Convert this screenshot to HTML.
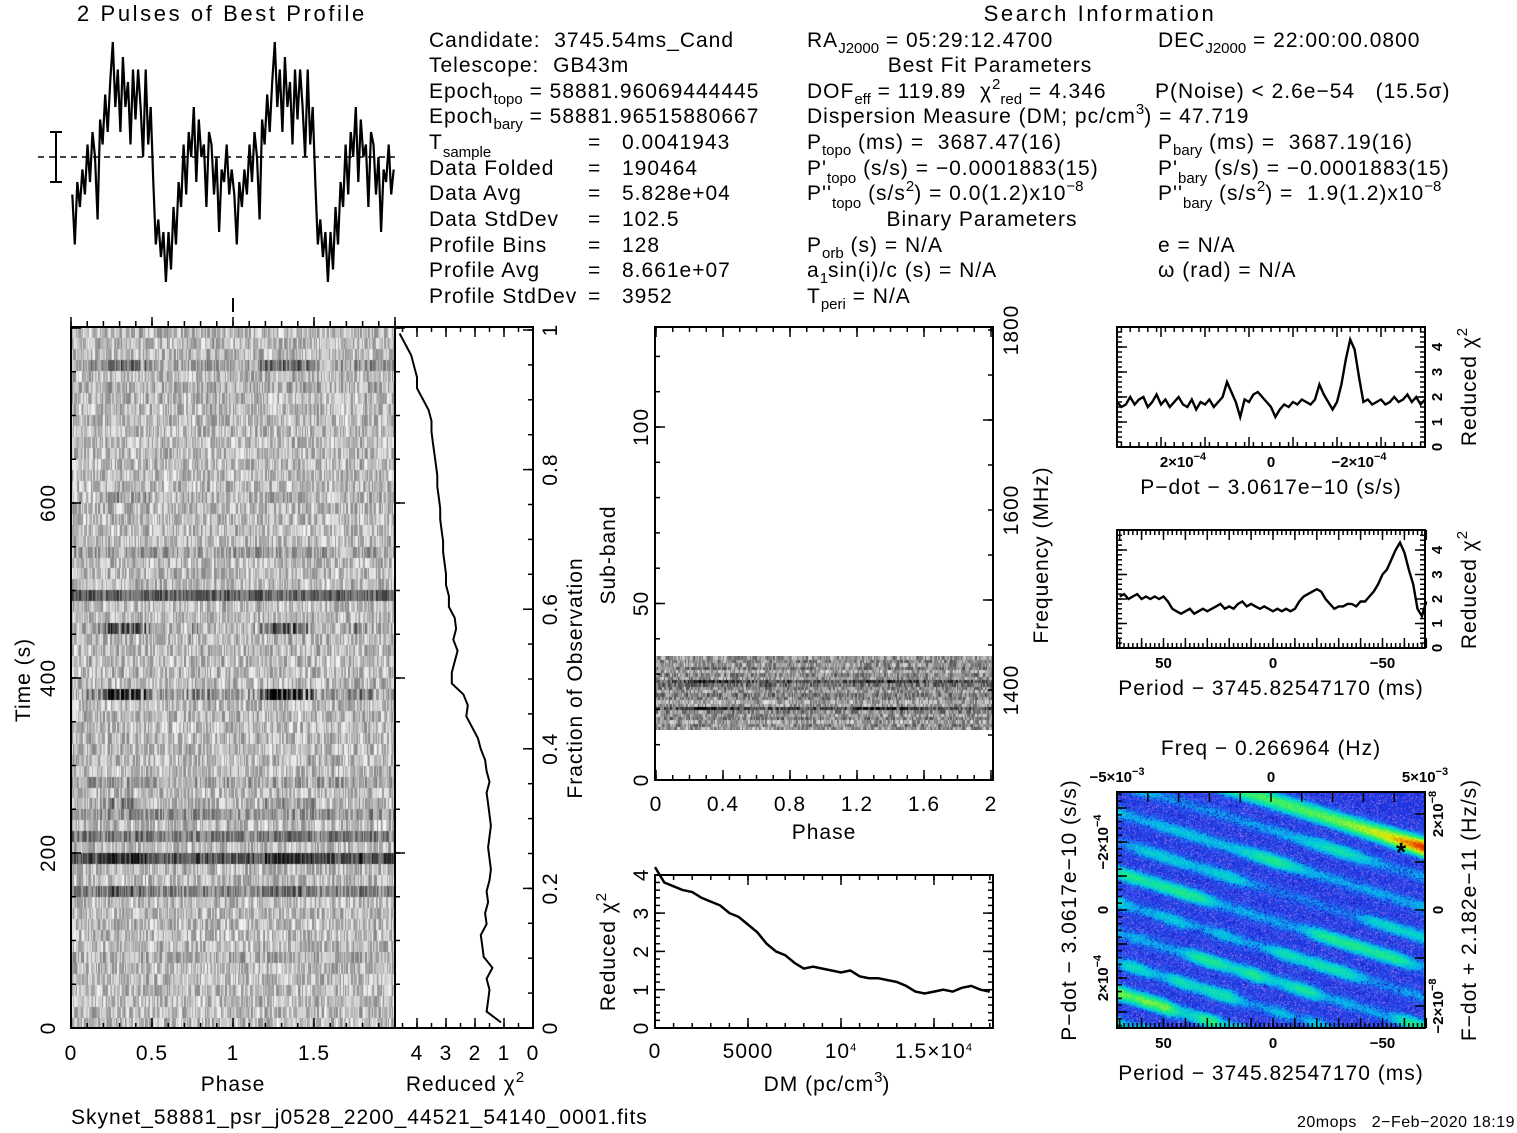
<!DOCTYPE html>
<html><head><meta charset="utf-8">
<style>
html,body{margin:0;padding:0;background:#fff;}
#wrap{position:relative;width:1517px;height:1133px;overflow:hidden;background:#fff;}
canvas{position:absolute;}
svg{position:absolute;left:0;top:0;}
text{font-family:"Liberation Sans",sans-serif;fill:#000;white-space:pre;}
.t{font-size:21px;letter-spacing:1px;}
.ttl{font-size:22px;letter-spacing:2.6px;}
.sm{font-size:15px;letter-spacing:0;}
.tk{font-size:21px;letter-spacing:1px;}
.tb{font-size:15px;font-weight:bold;}
</style></head>
<body>
<div id="wrap">
<canvas id="cvTP" width="324" height="701" style="left:71px;top:327px"></canvas>
<canvas id="cvSB" width="338" height="74" style="left:655px;top:656px"></canvas>
<canvas id="cvCM" width="308" height="236" style="left:1117px;top:792px"></canvas>
<svg id="svg" width="1517" height="1133" viewBox="0 0 1517 1133">
<g id="texts">
<text class="ttl" x="77" y="21">2 Pulses of Best Profile</text>
<text class="ttl" x="1100" y="21" text-anchor="middle">Search Information</text>
<text class="t" x="429" y="47">Candidate:  3745.54ms_Cand</text>
<text class="t" x="429" y="72">Telescope:  GB43m</text>
<text class="t" x="429" y="98">Epoch<tspan class="sm" baseline-shift="-6">topo</tspan> = 58881.96069444445</text>
<text class="t" x="429" y="123">Epoch<tspan class="sm" baseline-shift="-6">bary</tspan> = 58881.96515880667</text>
<text class="t" x="429" y="149">T<tspan class="sm" baseline-shift="-8">sample</tspan></text>
<text class="t" x="429" y="175">Data Folded</text>
<text class="t" x="429" y="200">Data Avg</text>
<text class="t" x="429" y="226">Data StdDev</text>
<text class="t" x="429" y="252">Profile Bins</text>
<text class="t" x="429" y="277">Profile Avg</text>
<text class="t" x="429" y="303">Profile StdDev</text>
<text class="t" x="588" y="149">=</text><text class="t" x="622" y="149">0.0041943</text>
<text class="t" x="588" y="175">=</text><text class="t" x="622" y="175">190464</text>
<text class="t" x="588" y="200">=</text><text class="t" x="622" y="200">5.828e+04</text>
<text class="t" x="588" y="226">=</text><text class="t" x="622" y="226">102.5</text>
<text class="t" x="588" y="252">=</text><text class="t" x="622" y="252">128</text>
<text class="t" x="588" y="277">=</text><text class="t" x="622" y="277">8.661e+07</text>
<text class="t" x="588" y="303">=</text><text class="t" x="622" y="303">3952</text>
<text class="t" x="807" y="47">RA<tspan class="sm" baseline-shift="-6">J2000</tspan> = 05:29:12.4700</text>
<text class="t" x="990" y="72" text-anchor="middle">Best Fit Parameters</text>
<text class="t" x="807" y="98">DOF<tspan class="sm" baseline-shift="-6">eff</tspan> = 119.89  χ<tspan class="sm" baseline-shift="9">2</tspan><tspan class="sm" baseline-shift="-6">red</tspan> = 4.346</text>
<text class="t" x="807" y="123">Dispersion Measure (DM; pc/cm<tspan class="sm" baseline-shift="9">3</tspan>) = 47.719</text>
<text class="t" x="807" y="149">P<tspan class="sm" baseline-shift="-6">topo</tspan> (ms) =  3687.47(16)</text>
<text class="t" x="807" y="175">P'<tspan class="sm" baseline-shift="-8">topo</tspan> (s/s) = −0.0001883(15)</text>
<text class="t" x="807" y="200">P''<tspan class="sm" baseline-shift="-8">topo</tspan> (s/s<tspan class="sm" baseline-shift="9">2</tspan>) = 0.0(1.2)x10<tspan class="sm" baseline-shift="9">−8</tspan></text>
<text class="t" x="982" y="226" text-anchor="middle">Binary Parameters</text>
<text class="t" x="807" y="252">P<tspan class="sm" baseline-shift="-6">orb</tspan> (s) = N/A</text>
<text class="t" x="807" y="277">a<tspan class="sm" baseline-shift="-6">1</tspan>sin(i)/c (s) = N/A</text>
<text class="t" x="807" y="303">T<tspan class="sm" baseline-shift="-6">peri</tspan> = N/A</text>
<text class="t" x="1158" y="47">DEC<tspan class="sm" baseline-shift="-6">J2000</tspan> = 22:00:00.0800</text>
<text class="t" x="1155" y="98">P(Noise) &lt; 2.6e−54   (15.5σ)</text>
<text class="t" x="1158" y="149">P<tspan class="sm" baseline-shift="-6">bary</tspan> (ms) =  3687.19(16)</text>
<text class="t" x="1158" y="175">P'<tspan class="sm" baseline-shift="-8">bary</tspan> (s/s) = −0.0001883(15)</text>
<text class="t" x="1158" y="200">P''<tspan class="sm" baseline-shift="-8">bary</tspan> (s/s<tspan class="sm" baseline-shift="9">2</tspan>) =  1.9(1.2)x10<tspan class="sm" baseline-shift="9">−8</tspan></text>
<text class="t" x="1158" y="252">e = N/A</text>
<text class="t" x="1158" y="277">ω (rad) = N/A</text>
</g>
<g>
<text class="t" x="233" y="1091" text-anchor="middle">Phase</text>
<text class="t" x="465" y="1091" text-anchor="middle">Reduced χ<tspan class="sm" baseline-shift="9">2</tspan></text>
<text class="t" transform="translate(30,680) rotate(-90)" text-anchor="middle">Time (s)</text>
<text class="t" transform="translate(582,678) rotate(-90)" text-anchor="middle">Fraction of Observation</text>
<text class="t" transform="translate(615,555) rotate(-90)" text-anchor="middle">Sub-band</text>
<text class="t" transform="translate(1048,555) rotate(-90)" text-anchor="middle">Frequency (MHz)</text>
<text class="t" x="824" y="839" text-anchor="middle">Phase</text>
<text class="t" x="827" y="1091" text-anchor="middle">DM (pc/cm<tspan class="sm" baseline-shift="9">3</tspan>)</text>
<text class="t" transform="translate(615,952) rotate(-90)" text-anchor="middle">Reduced χ<tspan class="sm" baseline-shift="9">2</tspan></text>
<text class="t" x="1271" y="494" text-anchor="middle">P−dot − 3.0617e−10 (s/s)</text>
<text class="t" x="1271" y="695" text-anchor="middle">Period − 3745.82547170 (ms)</text>
<text class="t" x="1271" y="755" text-anchor="middle">Freq − 0.266964 (Hz)</text>
<text class="t" x="1271" y="1080" text-anchor="middle">Period − 3745.82547170 (ms)</text>
<text class="t" transform="translate(1076,910) rotate(-90)" text-anchor="middle">P−dot − 3.0617e−10 (s/s)</text>
<text class="t" transform="translate(1476,910) rotate(-90)" text-anchor="middle">F−dot + 2.182e−11 (Hz/s)</text>
<text class="t" transform="translate(1476,387) rotate(-90)" text-anchor="middle">Reduced χ<tspan class="sm" baseline-shift="9">2</tspan></text>
<text class="t" transform="translate(1476,590) rotate(-90)" text-anchor="middle">Reduced χ<tspan class="sm" baseline-shift="9">2</tspan></text>
<text class="t" x="71" y="1124">Skynet_58881_psr_j0528_2200_44521_54140_0001.fits</text>
<text x="1515" y="1127" text-anchor="end" style="font-size:16px;letter-spacing:0.5px">20mops   2−Feb−2020 18:19</text>
</g>
<g id="axes" stroke="#000" stroke-width="2" fill="none"></g>
<g id="labels"></g>
<g id="marks" fill="none" stroke="#000"></g>
</svg>
</div>
<script>
// ---------- DATA ----------
const profileBins = [-1.5,-3.5,-1,-2,-0.5,-1.5,0.5,-1, 1,0,-2.5,1.5,0.5,2.5,1,3, 4.6,2,3.5,1,4,2,3,0.5, 3.5,1.5,3.5,2,0,3.5,0.5,2, -1,-3.5,-2.5,-4,-3,-5,-3,-4.5, -2,-3.5,-1,-2,0.5,-1.5,1,0, 2,-1,1.5,0,0.5,-2,1,0.5, -1.5,0,-3,-0.5,-1,0.5,-1.5,-0.5];
const timeChi2 = [1.1,1.6,1.55,1.5,1.6,1.4,1.7,1.75, 1.8,1.6,1.65,1.55,1.6,1.5,1.45,1.5, 1.55,1.5,1.45,1.5,1.55,1.6,1.5,1.6, 1.65,1.8,1.9,2.1,2.3,2.25,2.4,2.8, 2.8,2.7,2.6,2.75,2.65,2.7,2.9,2.9, 3.0,3.0,3.05,3.1,3.1,3.15,3.2,3.2, 3.25,3.3,3.3,3.35,3.4,3.45,3.5,3.5, 3.6,3.8,4.0,4.0,4.1,4.2,4.4,4.6];
const rowOffset = [0,0,0,0,0,0,0.05,0,0,0,0,0,0.2,0,0,0.4,0,0.25,0,0.15,0,0,0.1,0,0,0,0,0,0,0,0.08,0,0,0,0,0,0,0,0,0.35,0,0,0,0.1,0,0,0,0,0,0,0,0,0,0,0,0,0,0,0.05,0,0.1,0,0,0];
const rowPulse  = [0,0,0,0,0,0,0,0,0,0,0,0,0.15,0,0,0.2,0,0,0,0,0.2,0,0,0,0,0,0,0,0,0,0.75,0,0,0,0,0,0.55,0,0,0,0,0,0,0,0,0,0,0,0.2,0,0,0,0,0,0,0,0,0,0,0,0.3,0,0,0];
const sbOffset = [0,0.05,-0.05,0.1,0,0.05,0.25,0,-0.05,0.05,0.1,0,0.05,0.15,0.25,0,0.05,-0.05,0.1,0,0.05,0];
const sbPulse  = [0,0,0,0,0,0,0.5,0,0,0,0,0,0,0,0.3,0,0,0,0,0,0,0];
const dmVals = [0,500,1000,1500,2000,2500,3000,3500,4000,4500,5000,5500,6000,6500,7000,7500,8000,8500,9000,9500,10000,10500,11000,11500,12000,12500,13000,13500,14000,14500,15000,15500,16000,16500,17000,17500,18000];
const dmChi2 = [4.2,3.8,3.7,3.6,3.55,3.4,3.3,3.2,3.0,2.9,2.7,2.5,2.2,2.0,1.9,1.7,1.55,1.6,1.55,1.5,1.45,1.5,1.35,1.3,1.3,1.25,1.2,1.1,0.95,0.9,0.95,1.0,0.95,1.05,1.1,1.0,0.95];
const pdotChi2 = [1.8,1.6,1.7,2.0,1.7,1.9,2.0,1.6,1.8,2.1,1.7,1.9,1.6,1.8,2.0,1.7,1.6,1.9,1.5,1.8,1.7,1.9,1.6,1.8,2.0,2.6,2.2,1.8,1.2,1.9,1.8,2.1,2.2,2.0,1.8,1.6,1.2,1.5,1.7,1.6,1.8,1.7,1.9,1.8,1.7,1.9,2.5,2.1,1.8,1.5,1.8,2.5,3.5,4.3,3.9,2.8,1.8,1.9,1.7,1.8,1.9,1.7,1.8,2.0,1.8,1.9,2.1,1.8,2.0,1.7,1.9]; // pdot offset +35..-35 (1e-5)
const periodChi2 = [2.1,2.2,2.0,2.1,2.2,2.0,2.1,2.0,2.1,2.0,2.1,1.9,1.6,1.5,1.4,1.5,1.6,1.4,1.5,1.6,1.5,1.6,1.7,1.8,1.6,1.7,1.6,1.8,1.9,1.7,1.8,1.7,1.6,1.7,1.6,1.5,1.6,1.5,1.6,1.5,1.6,1.9,2.1,2.2,2.3,2.4,2.3,2.0,1.8,1.6,1.7,1.7,1.8,1.8,1.7,1.9,1.9,2.1,2.3,2.6,3.0,3.2,3.6,4.0,4.3,3.9,3.2,2.6,1.6,1.3,1.9]; // period offset +70..-70 step 2 ms
const streakY0 = [-40,-10,20,50,80,110,140,170,200,230,260,290];
const streakStr = [0.9,0.45,0.5,0.4,0.5,0.45,0.5,0.45,0.62,0.5,0.45,0.5];

// ---------- SCALES ----------
const phaseL=v=>71+v*162, timeY=t=>1028-t*0.875, chiX=v=>533-29*v, fracY=f=>1028-698*f;
const phS=v=>656+v*167.5, subY=s=>780-3.53*s, freqY=f=>690-(f-1400)*0.9;
const dmX=d=>655+d*0.0186, dmY=v=>1028-38.3*v;
const pdX=u=>1271-4.4*u, pdY=v=>447-25*v;
const prX=p=>1273-2.19*p, prY=v=>648-24.5*v;
const cPdY=u=>910+3.4*u, cFX=f=>1271+f*30.8, cFdY=f=>910-f*48;

const NS='http://www.w3.org/2000/svg';
const axes=document.getElementById('axes'), labels=document.getElementById('labels'), marks=document.getElementById('marks');
function ln(x1,y1,x2,y2,w){const e=document.createElementNS(NS,'line');e.setAttribute('x1',x1);e.setAttribute('y1',y1);e.setAttribute('x2',x2);e.setAttribute('y2',y2);if(w)e.setAttribute('stroke-width',w);axes.appendChild(e);return e;}
function box(x0,y0,x1,y1,name){const e=document.createElementNS(NS,'rect');e.setAttribute('x',x0);e.setAttribute('y',y0);e.setAttribute('width',x1-x0);e.setAttribute('height',y1-y0);


axes.appendChild(e);}
function lab(x,y,s,cls,rot,anchor){const e=document.createElementNS(NS,'text');e.setAttribute('class',cls||'tk');e.setAttribute('text-anchor',anchor||'middle');
if(rot)e.setAttribute('transform','translate('+x+','+y+') rotate(-90)');else{e.setAttribute('x',x);e.setAttribute('y',y);}
e.innerHTML=s;


labels.appendChild(e);}
function tx(f,a,b,step,y,d,len){for(let v=a;v<=b+1e-9;v+=step){const x=f(v);ln(x,y,x,y+d*len,1.5);}}
function ty(f,a,b,step,x,d,len){for(let v=a;v<=b+1e-9;v+=step){const y=f(v);ln(x,y,x+d*len,y,1.5);}}
function path(pts,w,name,dash){const e=document.createElementNS(NS,'path');e.setAttribute('d','M'+pts.map(p=>p[0].toFixed(1)+','+p[1].toFixed(1)).join('L'));e.setAttribute('stroke-width',w);if(dash)e.setAttribute('stroke-dasharray',dash);


marks.appendChild(e);return e;}
const sup=(a,b)=>a+'<tspan font-size="11" baseline-shift="7">'+b+'</tspan>';

// ---------- PROFILE ----------
{const pts=[];const n=profileBins.length;for(let p=0;p<2;p++)for(let k=0;k<n;k++){pts.push([71+(p*n+k+0.5)*(324/(2*n)),157-25*profileBins[k]]);}
path(pts,2.2,'profile-line');
path([[38,157],[395,157]],1.5,'profile-baseline','6,5');
path([[50,132],[62,132]],2,'error-bar-top');path([[56,132],[56,182]],2,'error-bar');path([[50,182],[62,182]],2,'error-bar-bottom');
ln(233,298,233,312,2);}

// ---------- TIME-PHASE ----------
function hash(i,j,s){let h=(i*374761393+j*668265263+s*982451653)|0;h=Math.imul(h^(h>>>13),1274126177);h^=h>>>16;return (h>>>0)/4294967296;}
function profAt(ph){const n=profileBins.length;const k=Math.floor(((ph%1)+1)%1*n);return profileBins[k];}
{const c=document.getElementById('cvTP').getContext('2d');const rows=timeChi2.length,cols=256;
for(let r=0;r<rows;r++)for(let j=0;j<cols;j++){const ph=j/128;let v=0.26+0.45*(hash(r,j,1)-0.5)+rowOffset[r]+rowPulse[r]*Math.max(0,profAt(ph))/4.6*1.2;v=Math.max(0,Math.min(1,v));const g=Math.round(255*(1-v));c.fillStyle='rgb('+g+','+g+','+g+')';
const x0=Math.floor(j*324/cols),x1=Math.floor((j+1)*324/cols),y1=701-Math.floor(r*701/rows),y0=701-Math.floor((r+1)*701/rows);c.fillRect(x0,y0,x1-x0,y1-y0);}
box(71,327,533,1028,'time-phase-frame');ln(395,327,395,1028,2);
tx(phaseL,0,2,0.5,1028,-1,10);tx(phaseL,0,2,0.1,1028,-1,5);tx(phaseL,0,2,0.5,327,-1,10);tx(phaseL,0,2,0.1,327,-1,6);
ty(timeY,0,800,200,71,1,10);ty(timeY,0,800,50,71,1,5);ty(timeY,0,800,200,395,1,10);ty(timeY,0,800,50,395,1,5);
['0','0.5','1','1.5'].forEach((s,i)=>lab(phaseL(i*0.5),1060,s));
[0,200,400,600].forEach(t=>lab(55,timeY(t),String(t),'tk',true));
tx(chiX,0,4,1,1028,-1,10);tx(chiX,0,4.5,0.5,1028,-1,5);tx(chiX,0,4,1,327,1,10);tx(chiX,0,4.5,0.5,327,1,5);
[4,3,2,1,0].forEach(v=>lab(chiX(v),1060,String(v)));
ty(fracY,0,1,0.2,533,-1,10);ty(fracY,0,1,0.05,533,-1,5);
[0,0.2,0.4,0.6,0.8,1].forEach(f=>lab(557,fracY(f),String(f),'tk',true));
path(timeChi2.map((v,i)=>[chiX(v),timeY((i+0.5)*800/timeChi2.length)]),2,'time-chi2-line');}

// ---------- SUBBANDS ----------
{const c=document.getElementById('cvSB').getContext('2d');const n=sbOffset.length,cols=256;
for(let r=0;r<n;r++)for(let j=0;j<cols;j++){const ph=j/128;let v=0.4+0.5*(hash(r,j,2)-0.5)+sbOffset[r]+sbPulse[r]*Math.max(0,profAt(ph))/4.6;v=Math.max(0,Math.min(1,v));const g=Math.round(255*(1-v));c.fillStyle='rgb('+g+','+g+','+g+')';
const x0=Math.floor(j*338/cols),x1=Math.floor((j+1)*338/cols),y1=74-Math.floor(r*74/n),y0=74-Math.floor((r+1)*74/n);c.fillRect(x0,y0,x1-x0,y1-y0);}
box(655,327,993,780,'subband-frame');
tx(phS,0,2,0.4,780,-1,10);tx(phS,0,2,0.1,780,-1,5);tx(phS,0,2,0.4,327,1,10);tx(phS,0,2,0.1,327,1,5);
ty(subY,0,125,50,655,1,10);ty(subY,0,125,10,655,1,5);
ty(freqY,1300,1800,200,993,1,-10);ty(freqY,1300,1800,50,993,1,-5);
['0','0.4','0.8','1.2','1.6','2'].forEach((s,i)=>lab(phS(i*0.4),811,s));
[0,50,100].forEach(s=>lab(648,subY(s),String(s),'tk',true));
[1400,1600,1800].forEach(f=>lab(1018,freqY(f),String(f),'tk',true));}

// ---------- DM ----------
box(655,875,993,1028,'dm-frame');
tx(dmX,0,18000,5000,1028,-1,10);tx(dmX,0,18000,1000,1028,-1,5);tx(dmX,0,18000,5000,875,1,10);tx(dmX,0,18000,1000,875,1,5);
ty(dmY,0,4,1,655,1,10);ty(dmY,0,4,0.2,655,1,5);ty(dmY,0,4,1,993,-1,10);ty(dmY,0,4,0.2,993,-1,5);
lab(dmX(0),1058,'0');lab(dmX(5000),1058,'5000');lab(dmX(10000),1058,sup('10','4'));lab(dmX(15000),1058,sup('1.5×10','4'));
[0,1,2,3,4].forEach(v=>lab(648,dmY(v),String(v),'tk',true));
path(dmVals.map((d,i)=>[dmX(d),dmY(dmChi2[i])]),2.5,'dm-chi2-line');

// ---------- PDOT ----------
box(1117,327,1425,447,'pdot-frame');
tx(pdX,-35,35,10,447,-1,10);tx(pdX,-34,34,2,447,-1,5);tx(pdX,-35,35,10,327,1,10);tx(pdX,-34,34,2,327,1,5);
ty(pdY,0,4,1,1117,1,10);ty(pdY,0,4.6,0.2,1117,1,5);ty(pdY,0,4,1,1425,-1,10);ty(pdY,0,4.6,0.2,1425,-1,5);
lab(pdX(20),467,sup('2×10','−4'),'tb');lab(pdX(0),467,'0','tb');lab(pdX(-20),467,sup('−2×10','−4'),'tb');
[0,1,2,3,4].forEach(v=>lab(1442,pdY(v),String(v),'tb',true));
path(pdotChi2.map((v,i)=>[pdX(35-i),pdY(v)]),2.4,'pdot-chi2-line');

// ---------- PERIOD ----------
box(1117,530,1425,648,'period-frame');
tx(prX,-70,70,10,648,-1,10);tx(prX,-70,70,2,648,-1,5);tx(prX,-70,70,10,530,1,10);tx(prX,-70,70,2,530,1,5);
ty(prY,0,4,1,1117,1,10);ty(prY,0,4.6,0.2,1117,1,5);ty(prY,0,4,1,1425,-1,10);ty(prY,0,4.6,0.2,1425,-1,5);
[50,0,-50].forEach(p=>lab(prX(p),668,p<0?'−50':String(p),'tb'));
[0,1,2,3,4].forEach(v=>lab(1442,prY(v),String(v),'tb',true));
path(periodChi2.map((v,i)=>[prX(70-2*i),prY(v)]),2.4,'period-chi2-line');

// ---------- COLORMAP ----------
{const cv=document.getElementById('cvCM'),c=cv.getContext('2d'),W=308,H=236,img=c.createImageData(W,H);
const stops=[[0,[35,50,225]],[0.28,[40,90,240]],[0.42,[0,200,235]],[0.6,[30,240,120]],[0.8,[230,240,0]],[1,[235,40,0]]];
function cm(v){for(let i=1;i<stops.length;i++){if(v<=stops[i][0]){const a=stops[i-1],b=stops[i],t=(v-a[0])/(b[0]-a[0]);return a[1].map((x,k)=>x+(b[1][k]-x)*t);}}return stops[stops.length-1][1];}
for(let y=0;y<H;y++)for(let x=0;x<W;x++){let v=0;for(let s=0;s<streakY0.length;s++){const d=y-(streakY0[s]+0.31*x);let st=streakStr[s]*(0.8+0.2*Math.sin(x*0.03+s*1.7+Math.sin(x*0.013*(s+1))));if(s===0)st=streakStr[0]*(0.62+0.45*Math.pow(x/W,6));const w=s===0?8:7;v=Math.max(v,st*Math.exp(-d*d/(2*w*w)));}
const n=hash(x,y,3);v=Math.min(1,v+0.14*n);let col=cm(v);if(v<0.3&&n>0.88){col=[140,110,230];}else if(v<0.3&&n<0.2){col=[25,35,205];}
const o=(y*W+x)*4;img.data[o]=col[0];img.data[o+1]=col[1];img.data[o+2]=col[2];img.data[o+3]=255;}
c.putImageData(img,0,0);
box(1117,792,1425,1028,'colormap-frame');
tx(prX,-70,70,10,1028,-1,10);tx(prX,-70,70,2,1028,-1,5);
tx(cFX,-5,5,1,792,1,10);
ty(cPdY,-30,30,10,1117,1,10);ty(cPdY,-34,34,2,1117,1,5);
ty(cFdY,-2,2,1,1425,-1,10);
[50,0,-50].forEach(p=>lab(prX(p),1048,p<0?'−50':String(p),'tb'));
lab(1117,782,sup('−5×10','−3'),'tb');lab(1271,782,'0','tb');lab(1425,782,sup('5×10','−3'),'tb');
lab(1108,cPdY(-20),sup('−2×10','−4'),'tb',true);lab(1108,cPdY(0),'0','tb',true);lab(1108,cPdY(20),sup('2×10','−4'),'tb',true);
lab(1443,cFdY(2),sup('2×10','−8'),'tb',true);lab(1443,cFdY(0),'0','tb',true);lab(1443,cFdY(-2),sup('−2×10','−8'),'tb',true);
const star=document.createElementNS(NS,'text');star.setAttribute('x',1401);star.setAttribute('y',861);star.setAttribute('text-anchor','middle');star.setAttribute('style','font-size:26px;font-weight:bold');star.textContent='*';


labels.appendChild(star);}
</script>
</body></html>
